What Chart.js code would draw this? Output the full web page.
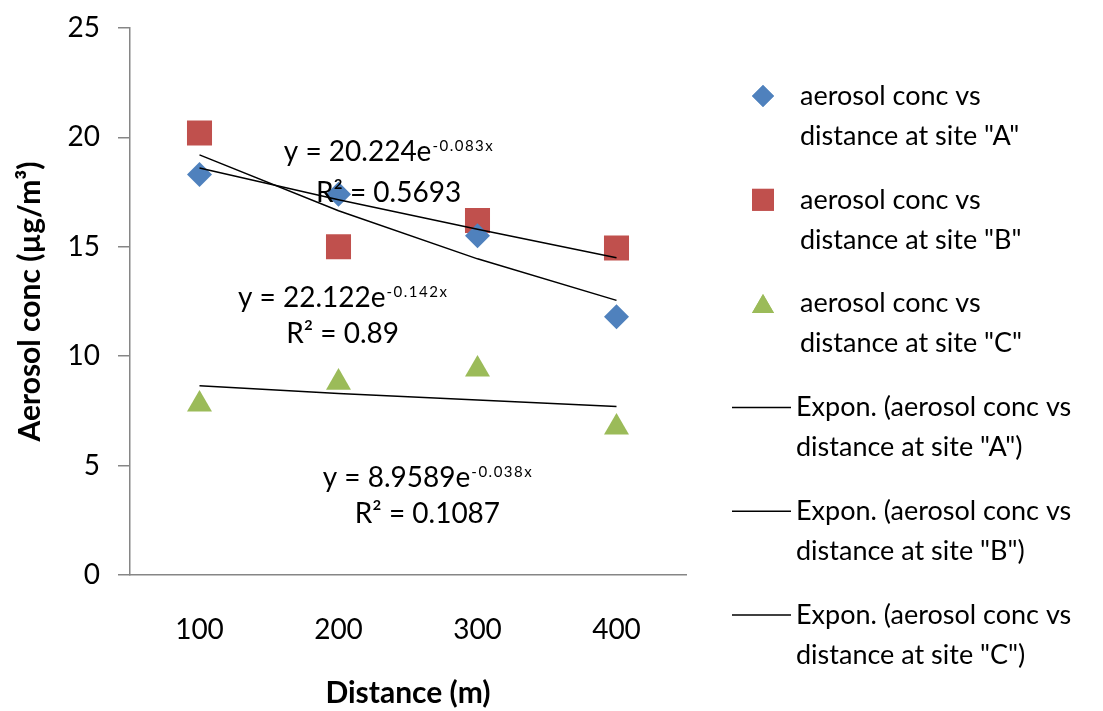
<!DOCTYPE html>
<html>
<head>
<meta charset="utf-8">
<script src="https://cdn.jsdelivr.net/npm/chart.js@4.4.1/dist/chart.umd.min.js"></script>
<style>
  html, body { margin: 0; padding: 0; background: #fff; }
  #wrap { width: 1103px; height: 711px; }
</style>
</head>
<body>
<div id="wrap"><canvas id="aerosolChart" width="1103" height="711"></canvas></div>
<script>
// Values
const distances = ['100', '200', '300', '400'];
const siteA = [18.3, 17.4, 15.5, 11.8];
const siteB = [20.2, 15.0, 16.2, 14.95];
const siteC = [7.8, 8.8, 9.4, 6.75];
// exponential trend lines, as drawn
const trendA = [19.2, 16.65, 14.45, 12.55];
const trendB = [18.6, 17.15, 15.8, 14.5];
const trendC = [8.65, 8.3, 8.0, 7.7];
const yTicks = [0, 5, 10, 15, 20, 25];

const FONT = 'Lato';
const BLUE = '#4F81BD';
const RED = '#C0504D';
const GREEN = '#9BBB59';

const seriesNames = [
  ['aerosol conc vs', 'distance at site "A"'],
  ['aerosol conc vs', 'distance at site "B"'],
  ['aerosol conc vs', 'distance at site "C"'],
  ['Expon. (aerosol conc vs', 'distance at site "A")'],
  ['Expon. (aerosol conc vs', 'distance at site "B")'],
  ['Expon. (aerosol conc vs', 'distance at site "C")']
];

// trendline equations (position given in category index / value units)
const equations = [
  { text: 'y = 20.224e', sup: '-0.083x', x: 1.36, y: 19.4 },
  { text: 'R\u00B2 = 0.5693', x: 1.36, y: 17.5 },
  { text: 'y = 22.122e', sup: '-0.142x', x: 1.03, y: 12.7 },
  { text: 'R\u00B2 = 0.89', x: 1.03, y: 11.05 },
  { text: 'y = 8.9589e', sup: '-0.038x', x: 1.64, y: 4.5 },
  { text: 'R\u00B2 = 0.1087', x: 1.64, y: 2.85 }
];

function markerSet(label, data, color, style, radius) {
  return {
    label: label,
    data: data,
    showLine: false,
    backgroundColor: color,
    borderColor: color,
    borderWidth: 0,
    pointStyle: style,
    pointRadius: radius,
    pointHoverRadius: radius,
    order: 2
  };
}

function trendSet(label, data) {
  return {
    label: label,
    data: data,
    borderColor: '#000',
    borderWidth: 1.5,
    pointRadius: 0,
    fill: false,
    tension: 0,
    order: 1
  };
}

// draws the equation texts with their superscripts
const equationPlugin = {
  id: 'equations',
  afterDatasetsDraw(chart) {
    const ctx = chart.ctx;
    const xs = chart.scales.x, ys = chart.scales.y;
    ctx.save();
    ctx.fillStyle = '#000';
    ctx.textBaseline = 'alphabetic';
    ctx.textAlign = 'left';
    equations.forEach(eq => {
      const cx = xs.getPixelForValue(eq.x);
      const cy = ys.getPixelForValue(eq.y);
      ctx.font = '28px ' + FONT;
      ctx.letterSpacing = '0px';
      const w1 = ctx.measureText(eq.text).width;
      let w2 = 0;
      if (eq.sup) {
        ctx.font = '15px ' + FONT;
        ctx.letterSpacing = '1.5px';
        w2 = ctx.measureText(eq.sup).width;
      }
      const left = cx - (w1 + w2) / 2;
      const base = cy + 10;
      ctx.font = '28px ' + FONT;
      ctx.letterSpacing = '0px';
      ctx.fillText(eq.text, left, base);
      if (eq.sup) {
        ctx.font = '15px ' + FONT;
        ctx.letterSpacing = '1.5px';
        ctx.fillText(eq.sup, left + w1 + 1, base - 10);
      }
    });
    ctx.restore();
  }
};

// legend on the right with two-line labels
const sideLegend = {
  id: 'sideLegend',
  afterDraw(chart) {
    const ctx = chart.ctx;
    const area = chart.chartArea;
    const markX = area.right + 77;
    const textX = area.right + 114;
    ctx.save();
    ctx.font = '27px ' + FONT;
    ctx.fillStyle = '#000';
    ctx.textBaseline = 'middle';
    chart.data.datasets.forEach((ds, i) => {
      const y = 96 + i * 103.8;
      if (ds.showLine === false) {
        ctx.fillStyle = ds.backgroundColor;
        const r = ds.pointStyle === 'rect' ? 15.5 : (ds.pointStyle === 'triangle' ? 12.7 : 11);
        Chart.helpers.drawPoint(ctx, { pointStyle: ds.pointStyle, radius: r, rotation: 0, borderWidth: 0 }, markX, ds.pointStyle === 'triangle' ? y + 3 : y);
        ctx.fill();
        ctx.fillStyle = '#000';
        ctx.textAlign = 'left';
        ctx.fillText(seriesNames[i][0], textX, y);
        ctx.fillText(seriesNames[i][1], textX, y + 40);
      } else {
        ctx.strokeStyle = '#000';
        ctx.lineWidth = 1.5;
        ctx.beginPath();
        ctx.moveTo(area.right + 46, y);
        ctx.lineTo(area.right + 105, y);
        ctx.stroke();
        ctx.fillText(seriesNames[i][0], area.right + 110, y);
        ctx.fillText(seriesNames[i][1], area.right + 110, y + 40);
      }
    });
    ctx.restore();
  }
};

const ctx = document.getElementById('aerosolChart').getContext('2d');
new Chart(ctx, {
  type: 'line',
  data: {
    labels: distances,
    datasets: [
      markerSet('aerosol conc vs distance at site "A"', siteA, BLUE, 'rectRot', 12.5),
      markerSet('aerosol conc vs distance at site "B"', siteB, RED, 'rect', 17.7),
      markerSet('aerosol conc vs distance at site "C"', siteC, GREEN, 'triangle', 14.4),
      trendSet('Expon. (aerosol conc vs distance at site "A")', trendA),
      trendSet('Expon. (aerosol conc vs distance at site "B")', trendB),
      trendSet('Expon. (aerosol conc vs distance at site "C")', trendC)
    ]
  },
  options: {
    responsive: false,
    animation: false,
    devicePixelRatio: 1,
    layout: { padding: { top: 28, right: 417, left: 0, bottom: 0 } },
    plugins: {
      legend: { display: false },
      tooltip: { enabled: false }
    },
    scales: {
      x: {
        offset: true,
        grid: { display: false, drawTicks: false },
        border: { display: true, color: '#868686', width: 1.5 },
        ticks: { color: '#000', font: { family: FONT, size: 28 }, padding: 38 },
        title: {
          display: true,
          text: 'Distance (m)',
          color: '#000',
          font: { family: FONT, size: 30, weight: 'bold' },
          padding: { top: 0, bottom: 0 }
        },
        afterFit: (scale) => { scale.height = 136; }
      },
      y: {
        min: 0,
        max: 25,
        afterBuildTicks: (scale) => { scale.ticks = yTicks.map(v => ({ value: v })); },
        grid: { drawOnChartArea: false, drawTicks: true, tickLength: 12, color: '#868686', lineWidth: 1.5 },
        border: { display: true, color: '#868686', width: 1.5 },
        ticks: { color: '#000', font: { family: FONT, size: 28 }, padding: 18 },
        title: {
          display: true,
          text: 'Aerosol conc (\u00B5g/m\u00B3)',
          color: '#000',
          font: { family: FONT, size: 30, weight: 'bold' },
          padding: { top: 12, bottom: 0 }
        },
        afterFit: (scale) => {
          scale.width = 130;
          scale.paddingTop = 17;
          scale.paddingBottom = 17;
        }
      }
    }
  },
  plugins: [equationPlugin, sideLegend]
});
</script>
</body>
</html>
